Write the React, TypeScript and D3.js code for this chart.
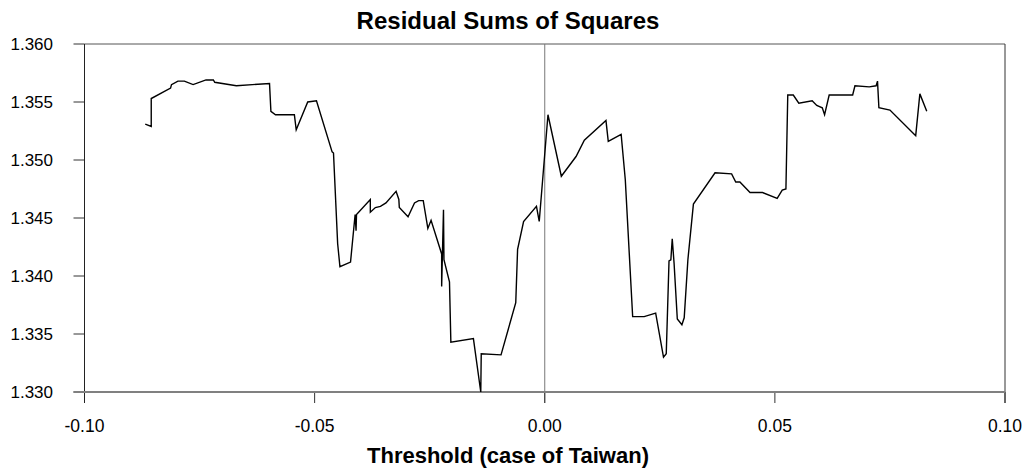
import React from "react";
import * as d3 from "d3";

const thresholds: number[] = [
  -0.0868, -0.0855, -0.0855, -0.0813, -0.0811, -0.0797, -0.0783, -0.0764, -0.0736, -0.072,
  -0.0717, -0.067, -0.0598, -0.0595, -0.0585, -0.0544, -0.054, -0.0515, -0.0496, -0.0462,
  -0.0459, -0.045, -0.0445, -0.0422, -0.0412, -0.041, -0.0409, -0.0379, -0.0379, -0.0368,
  -0.0357, -0.0345, -0.0323, -0.0317, -0.0316, -0.0297, -0.0283, -0.0274, -0.0264, -0.0254,
  -0.0247, -0.0224, -0.0224, -0.022, -0.0219, -0.0207, -0.0204, -0.0155, -0.0139, -0.0138,
  -0.0095, -0.0063, -0.0059, -0.0046, -0.0018, -0.0012, 0.0007, 0.0036, 0.0068, 0.0086,
  0.0133, 0.0138, 0.0166, 0.0175, 0.0191, 0.0216, 0.0241, 0.0258, 0.0264, 0.027,
  0.0274, 0.0277, 0.0281, 0.0288, 0.0298, 0.0303, 0.0311, 0.0323, 0.037, 0.0406,
  0.0415, 0.0424, 0.0446, 0.0473, 0.0505, 0.0516, 0.0524, 0.0528, 0.054, 0.0552,
  0.0581, 0.0591, 0.0603, 0.0608, 0.0618, 0.0669, 0.0674, 0.0705, 0.072, 0.0723,
  0.0726, 0.075, 0.0806, 0.0815, 0.083,
];

const rss: number[] = [
  1.3531, 1.3529, 1.3553, 1.3562, 1.3565, 1.3568, 1.3568, 1.3565, 1.3569, 1.3569,
  1.3567, 1.3564, 1.3566, 1.3542, 1.3539, 1.3539, 1.3526, 1.355, 1.3551, 1.3507,
  1.3506, 1.3428, 1.3408, 1.3412, 1.3453, 1.3439, 1.3453, 1.3466, 1.3455, 1.3459,
  1.346, 1.3463, 1.3473, 1.3466, 1.3459, 1.3451, 1.3463, 1.3465, 1.3465, 1.3441,
  1.3448, 1.3419, 1.3391, 1.3457, 1.3414, 1.3395, 1.3343, 1.3346, 1.33, 1.3333,
  1.3332, 1.3377, 1.3423, 1.3447, 1.346, 1.3447, 1.3539, 1.3486, 1.3503, 1.3517,
  1.3534, 1.3516, 1.3522, 1.3483, 1.3365, 1.3365, 1.3368, 1.333, 1.3333, 1.3413,
  1.3414, 1.3432, 1.3411, 1.3363, 1.3358, 1.3364, 1.3414, 1.3462, 1.3489, 1.3488,
  1.3481, 1.3481, 1.3472, 1.3472, 1.3467, 1.3474, 1.3475, 1.3556, 1.3556, 1.3549,
  1.3551, 1.3547, 1.3545, 1.3539, 1.3556, 1.3556, 1.3564, 1.3563, 1.3564, 1.3568,
  1.3545, 1.3543, 1.3521, 1.3557, 1.3542,
];

const xTicks: number[] = [-0.1, -0.05, 0, 0.05, 0.1];
const yTicks: number[] = [1.33, 1.335, 1.34, 1.345, 1.35, 1.355, 1.36];

const title = "Residual Sums of Squares";
const xTitle = "Threshold (case of Taiwan)";

const fmtX = (v: number) => (v < 0 ? "-" : "") + Math.abs(v).toFixed(2);
const fmtY = (v: number) => v.toFixed(3);

export default function App() {
  const W = 1030;
  const H = 472;
  const left = 84.5;
  const right = 1005;
  const top = 44;
  const bottom = 392;
  const font = "'Liberation Sans', Arial, Helvetica, sans-serif";

  const x = d3.scaleLinear().domain([-0.1, 0.1]).range([left, right]);
  const y = d3.scaleLinear().domain([1.33, 1.36]).range([bottom, top]);

  const pts: [number, number][] = thresholds.map((t, i) => [t, rss[i]]);
  const line = d3
    .line<[number, number]>()
    .x((d) => x(d[0]))
    .y((d) => y(d[1]));

  return (
    <svg
      width={W}
      height={H}
      style={{ position: "absolute", left: 0, top: 0, background: "#fff" }}
    >
      <rect x={0} y={0} width={W} height={H} fill="#fff" />
      <line x1={left} x2={right} y1={top} y2={top} stroke="#555" strokeWidth={1} />
      <line x1={right} x2={right} y1={top} y2={bottom + 11} stroke="#333" strokeWidth={1} />
      <line x1={x(0)} x2={x(0)} y1={top} y2={bottom + 11} stroke="#777" strokeWidth={1} />
      {yTicks.map((t) => (
        <g key={"y" + t}>
          <line x1={left - 11} x2={left} y1={y(t)} y2={y(t)} stroke="#333" strokeWidth={1} />
          <text
            x={53}
            y={y(t)}
            dy="0.36em"
            textAnchor="end"
            fontFamily={font}
            fontSize={17}
            fill="#000"
          >
            {fmtY(t)}
          </text>
        </g>
      ))}
      {xTicks.map((t) => (
        <g key={"x" + t}>
          <line x1={x(t)} x2={x(t)} y1={bottom} y2={bottom + 11} stroke="#333" strokeWidth={1} />
          <text
            x={x(t)}
            y={431.5}
            textAnchor="middle"
            fontFamily={font}
            fontSize={17.5}
            fill="#000"
          >
            {fmtX(t)}
          </text>
        </g>
      ))}
      <line x1={left} x2={left} y1={top} y2={bottom + 11} stroke="#222" strokeWidth={1} />
      <line x1={left - 11} x2={right} y1={bottom} y2={bottom} stroke="#808080" strokeWidth={2} />
      <path d={line(pts) || ""} fill="none" stroke="#000" strokeWidth={1.4} strokeLinejoin="miter" />
      <text
        x={508}
        y={29}
        textAnchor="middle"
        fontFamily={font}
        fontSize={24}
        fontWeight="bold"
        fill="#000"
      >
        {title}
      </text>
      <text
        x={508}
        y={463}
        textAnchor="middle"
        fontFamily={font}
        fontSize={22}
        fontWeight="bold"
        fill="#000"
      >
        {xTitle}
      </text>
    </svg>
  );
}
